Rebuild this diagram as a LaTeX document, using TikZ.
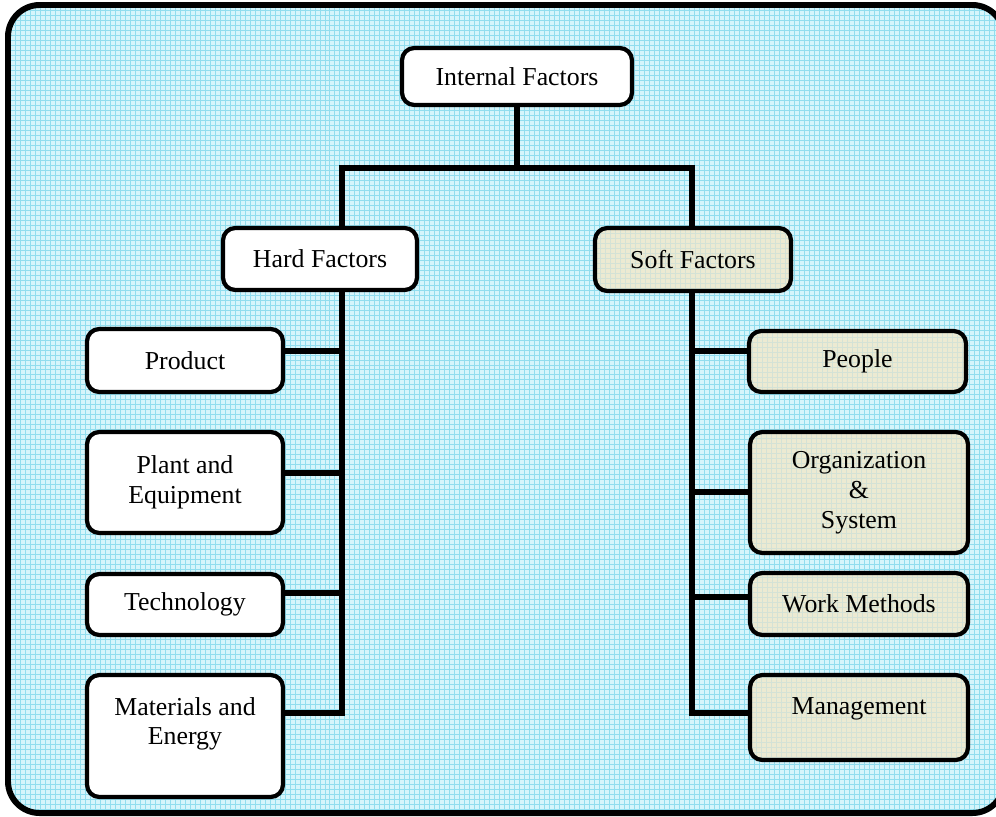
\documentclass[tikz,border=0pt]{standalone}
\usepackage{fontspec}
\setmainfont{Liberation Serif}
\usepackage{tikz}

\definecolor{paneback}{RGB}{214,245,251}
\definecolor{paneline}{RGB}{145,221,238}
\definecolor{softback}{RGB}{236,234,210}
\definecolor{softline}{RGB}{212,226,214}

\begin{document}
\begin{tikzpicture}[x=0.02cm,y=-0.02cm,
  factor/.style={draw,line width=2.4pt,rounded corners=7pt,fill=white,align=center,
    inner sep=2pt,font=\fontsize{14.7}{17}\selectfont},
  softfactor/.style={factor,fill=softback,
    path picture={\draw[softline,line width=0.4pt] (path picture bounding box.south west)
      grid[step=1mm] (path picture bounding box.north east);}},
  link/.style={line width=3.2pt}]
\useasboundingbox (0,0) rectangle (996,816);
\clip (0,0) rectangle (996,816);
% grid panel
\begin{scope}
\clip[rounded corners=18pt] (8,5) rectangle (1004,813);
\fill[paneback] (0,0) rectangle (1010,820);
\draw[paneline,line width=0.5pt] (0,0) grid[step=1mm] (1010,820);
\end{scope}
\draw[line width=3.4pt,rounded corners=18pt] (8,5) rectangle (1004,813);

% boxes
\node[factor,minimum width=4.6cm,minimum height=1.14cm] (intf) at (517,76.5) {Internal Factors};
\node[factor,minimum width=3.88cm,minimum height=1.24cm] (hard) at (320,259) {Hard Factors};
\node[softfactor,minimum width=3.92cm,minimum height=1.26cm] (soft) at (693,259.5) {Soft Factors};
\node[factor,minimum width=3.92cm,minimum height=1.26cm] (prod) at (185,360.5) {Product};
\node[factor,minimum width=3.92cm,minimum height=2.02cm] (plant) at (185,482.5) {Plant and\\Equipment};
\node[factor,minimum width=3.92cm,minimum height=1.22cm] (tech) at (185,604.5) {Technology};
\node[factor,minimum width=3.92cm,minimum height=2.44cm] (mat) at (185,736) {Materials and\\Energy\\\mbox{}};
\node[softfactor,minimum width=4.34cm,minimum height=1.22cm] (people) at (857.5,361.5) {People};
\node[softfactor,minimum width=4.36cm,minimum height=2.42cm] (org) at (859,492.5) {Organization\\\&\\System};
\node[softfactor,minimum width=4.36cm,minimum height=1.24cm] (work) at (859,604) {Work Methods};
\node[softfactor,minimum width=4.36cm,minimum height=1.7cm] (mgmt) at (859,717.5) {Management\\[-4pt]\mbox{}};

% tree lines
\coordinate (hl) at (342,168);
\coordinate (hr) at (692,168);
\coordinate (lp) at (342,351);
\coordinate (lq) at (342,473);
\coordinate (lt) at (342,593);
\coordinate (lm) at (342,713);
\coordinate (rp) at (692,351);
\coordinate (ro) at (692,492);
\coordinate (rw) at (692,597);
\coordinate (rm) at (692,713);
\draw[link] (intf.south) -- (intf.south |- hl);
\draw[link] (hl |- hard.north) -- (hl) -- (hr) -- (hr |- soft.north);
\draw[link] (hl |- hard.south) -- (lm) -- (lm -| mat.east);
\draw[link] (hr |- soft.south) -- (rm) -- (rm -| mgmt.west);
\draw[link] (lp) -- (lp -| prod.east);
\draw[link] (lq) -- (lq -| plant.east);
\draw[link] (lt) -- (lt -| tech.east);
\draw[link] (rp) -- (rp -| people.west);
\draw[link] (ro) -- (ro -| org.west);
\draw[link] (rw) -- (rw -| work.west);
\end{tikzpicture}
\end{document}
